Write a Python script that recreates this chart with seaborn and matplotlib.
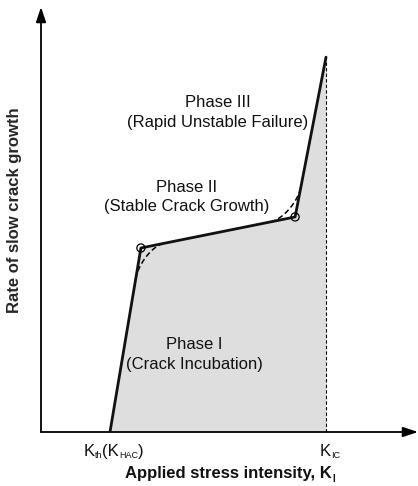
import numpy as np
import pandas as pd
import matplotlib
matplotlib.use("Agg")
import matplotlib.pyplot as plt
import seaborn as sns
from matplotlib.offsetbox import AnnotationBbox, TextArea, HPacker, VPacker, DrawingArea

# Schematic crack-growth curve (arbitrary units on both axes)
stress_intensity = [18.3, 26.5, 67.4, 75.6]     # K_th, knee I/II, knee II/III, K_IC
growth_rate = [0.0, 43.3, 50.6, 88.2]

phase_titles = ["Phase I", "Phase II", "Phase III"]
phase_notes = ["(Crack Incubation)", "(Stable Crack Growth)", "(Rapid Unstable Failure)"]
phase_pos = [(40.6, 18.2), (38.7, 55.3), (46.9, 75.1)]

tick_labels = [("K", "th", "(K", "HAC", ")"), ("K", "IC")]
tick_pos = [stress_intensity[0], stress_intensity[3]]

sns.set_theme(style="white")
plt.rcParams["font.family"] = ["Liberation Sans", "DejaVu Sans"]

W, H = 418, 486
fig = plt.figure(figsize=(W / 100, H / 100), dpi=100)
x0, y0, x1, y1 = 41, 432, 418, 7
ax = fig.add_axes([x0 / W, 1 - y0 / H, (x1 - x0) / W, (y0 - y1) / H])
ax.set_xlim(0, 100)
ax.set_ylim(0, 100)
for s in ax.spines.values():
    s.set_visible(False)
ax.set_xticks([])
ax.set_yticks([])
ax.set_facecolor("none")

df = pd.DataFrame({"K": stress_intensity, "rate": growth_rate})

# shaded region under the curve up to K_IC
ax.fill_between(df["K"], df["rate"], 0, color="#dedede", lw=0, zorder=1)
ax.plot([stress_intensity[3]] * 2, [0, growth_rate[3]], ls=(0, (3, 2)),
        color="black", lw=0.8, zorder=2)

sns.lineplot(data=df, x="K", y="rate", ax=ax, color="#111111", lw=2.0,
             sort=False, zorder=4)


def on_segment(p, q, t):
    return np.array([p[0] + (q[0] - p[0]) * t, p[1] + (q[1] - p[1]) * t])


pts = [np.array(p) for p in zip(stress_intensity, growth_rate)]
# smoothed transitions at the two knees (dashed, cubic Bezier)
for corner, a, b in [(1, on_segment(pts[0], pts[1], 0.83), on_segment(pts[1], pts[2], 0.15)),
                     (2, on_segment(pts[1], pts[2], 0.84), on_segment(pts[2], pts[3], 0.19))]:
    c = pts[corner]
    p1 = a + 0.5 * (c - a)
    p2 = b + 0.5 * (c - b)
    t = np.linspace(0, 1, 50)[:, None]
    curve = (1 - t) ** 3 * a + 3 * (1 - t) ** 2 * t * p1 + 3 * (1 - t) * t ** 2 * p2 + t ** 3 * b
    ax.plot(curve[:, 0], curve[:, 1], ls=(0, (3.5, 2)), color="black", lw=1.1, zorder=3)

ax.scatter([stress_intensity[1], stress_intensity[2]], [growth_rate[1], growth_rate[2]],
           s=34, facecolors="none", edgecolors="black", linewidths=0.9, zorder=5)

# axis arrows
arrow = dict(arrowstyle="-|>,head_length=0.75,head_width=0.25",
             color="black", lw=1.3, shrinkA=0, shrinkB=0)
ax.annotate("", xy=(1.0, 0), xytext=(0, 0), xycoords="axes fraction",
            arrowprops=arrow, annotation_clip=False)
ax.annotate("", xy=(0, 1.0), xytext=(0, 0), xycoords="axes fraction",
            arrowprops=arrow, annotation_clip=False)

for title, note, (px, py) in zip(phase_titles, phase_notes, phase_pos):
    ax.text(px, py, title + "\n" + note, ha="center", va="center", fontsize=12,
            linespacing=1.4, color="#111111")


def label_with_subs(parts, xy, coords, size, sub_size, weight="normal"):
    """Place a label made of alternating normal / subscript pieces."""
    children = []
    for i, p in enumerate(parts):
        props = dict(fontsize=size if i % 2 == 0 else sub_size, fontweight=weight,
                     color="#111111")
        piece = TextArea(p, textprops=props)
        if i % 2 == 1:
            piece = VPacker(children=[DrawingArea(1, size * 0.45), piece],
                            pad=0, sep=0, align="left")
        children.append(piece)
    box = HPacker(children=children, pad=0, sep=0, align="top")
    ab = AnnotationBbox(box, xy, xycoords=coords, frameon=False, box_alignment=(0.5, 0.5),
                        pad=0, annotation_clip=False)
    ax.add_artist(ab)


for parts, xp in zip(tick_labels, tick_pos):
    label_with_subs(parts, (xp + 1.0, -4.7), "data", 12, 6.5)

label_with_subs(("Applied stress intensity, K", "I"), (230 / W, 1 - 475 / H),
                "figure fraction", 12, 7, weight="bold")
fig.text(15 / W, 1 - 210 / H, "Rate of slow crack growth", rotation=90,
         ha="center", va="center", fontsize=12, fontweight="bold")

fig.savefig("out.png", dpi=100)
